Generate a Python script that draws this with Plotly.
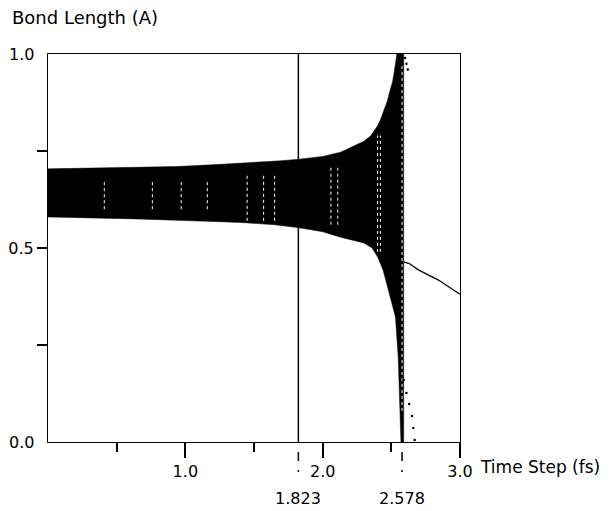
import plotly.graph_objects as go

# ---- data ----
upper_x = [0.00, 0.41, 0.94, 1.23, 1.43, 1.57, 1.70, 1.83, 2.00, 2.13, 2.20, 2.30, 2.35, 2.40, 2.42, 2.45, 2.47, 2.49, 2.51, 2.53, 2.54]
upper_y = [0.704, 0.707, 0.710, 0.715, 0.719, 0.722, 0.725, 0.729, 0.736, 0.747, 0.758, 0.775, 0.789, 0.815, 0.830, 0.858, 0.878, 0.905, 0.930, 0.975, 1.0]
lower_x = [0.00, 0.64, 1.05, 1.40, 1.65, 1.83, 2.00, 2.13, 2.30, 2.36, 2.40, 2.44, 2.48, 2.51, 2.53, 2.55, 2.56, 2.57]
lower_y = [0.580, 0.575, 0.570, 0.566, 0.560, 0.552, 0.542, 0.528, 0.513, 0.500, 0.477, 0.443, 0.392, 0.350, 0.322, 0.219, 0.120, 0.0]
strip_x = [2.54, 2.59]          # dense unstable region
strip_y = [0.0, 1.0]

streak_x = [0.41, 0.76, 0.97, 1.16, 1.45, 1.57, 1.65, 2.06, 2.11, 2.40, 2.42]
streak_lo = [0.60, 0.60, 0.60, 0.60, 0.57, 0.57, 0.57, 0.56, 0.56, 0.49, 0.49]
streak_hi = [0.675, 0.675, 0.675, 0.675, 0.69, 0.69, 0.69, 0.71, 0.71, 0.79, 0.79]

after_x = [2.59, 2.63, 2.70, 2.84, 3.00]
after_y = [0.464, 0.460, 0.443, 0.418, 0.381]

dots_top_x = [2.60, 2.61, 2.62]
dots_top_y = [0.990, 0.975, 0.960]
dots_bot_x = [2.59, 2.61, 2.63, 2.65, 2.66, 2.67]
dots_bot_y = [0.160, 0.126, 0.098, 0.067, 0.036, 0.005]

marker_x = [1.823, 2.578]
marker_labels = ["1.823", "2.578"]

x_major = [1.0, 2.0, 3.0]
x_major_text = ["1.0", "2.0", "3.0"]
x_minor = [0.5, 1.5, 2.5]
y_ticks = [0.25, 0.5, 0.75]
y_ticks_text = ["", "0.5", ""]
y_end_labels = [0.0, 1.0]
y_end_text = ["0.0", "1.0"]

FONT = "DejaVu Sans"

fig = go.Figure()

# filled oscillation envelope incl. the dense strip
poly_x = upper_x + [strip_x[1], strip_x[1]] + lower_x[::-1]
poly_y = upper_y + [strip_y[1], strip_y[0]] + lower_y[::-1]
fig.add_trace(go.Scatter(x=poly_x, y=poly_y, mode="lines", fill="toself",
                         fillcolor="black", line=dict(color="black", width=0.5),
                         hoverinfo="skip", showlegend=False))

# white dotted streaks inside the band
for sx, lo, hi in zip(streak_x, streak_lo, streak_hi):
    fig.add_trace(go.Scatter(x=[sx, sx], y=[lo, hi], mode="lines",
                             line=dict(color="white", width=1, dash="dot"),
                             hoverinfo="skip", showlegend=False))
fig.add_trace(go.Scatter(x=[marker_x[1], marker_x[1]], y=[0.08, 0.97], mode="lines",
                         line=dict(color="white", width=1, dash="dot"),
                         hoverinfo="skip", showlegend=False))

# vertical line at 1.823
fig.add_trace(go.Scatter(x=[marker_x[0], marker_x[0]], y=[0, 1], mode="lines",
                         line=dict(color="black", width=1.5),
                         hoverinfo="skip", showlegend=False))

# line after instability
fig.add_trace(go.Scatter(x=after_x, y=after_y, mode="lines",
                         line=dict(color="black", width=1.3),
                         hoverinfo="skip", showlegend=False))

# scattered dots
fig.add_trace(go.Scatter(x=dots_top_x + dots_bot_x, y=dots_top_y + dots_bot_y, mode="markers",
                         marker=dict(color="black", size=2.5),
                         hoverinfo="skip", showlegend=False, cliponaxis=False))

# dashed marks below the x axis
for mx, lab in zip(marker_x, marker_labels):
    fig.add_shape(type="line", xref="x", yref="paper", x0=mx, x1=mx, y0=-0.026, y1=-0.077,
                  line=dict(color="black", width=1.5, dash="dash"))
    fig.add_annotation(x=mx, xref="x", y=-0.145, yref="paper", text=lab, showarrow=False,
                       font=dict(family=FONT, size=16, color="black"),
                       xanchor="center", yanchor="middle")

for yv, t in zip(y_end_labels, y_end_text):
    fig.add_annotation(x=-0.028, xref="paper", y=yv, yref="y", text=t, showarrow=False,
                       font=dict(family=FONT, size=16, color="black"),
                       xanchor="right", yanchor="middle")

fig.add_annotation(x=1.044, xref="paper", y=-0.064, yref="paper", text="Time Step (fs)",
                   showarrow=False, font=dict(family=FONT, size=17, color="black"),
                   xanchor="left", yanchor="middle")
fig.add_annotation(x=-0.092, xref="paper", y=1.095, yref="paper", text="Bond Length (A)",
                   showarrow=False, font=dict(family=FONT, size=18, color="black"),
                   xanchor="left", yanchor="middle")

# page body has an 8px margin, so the figure is 8px smaller and margins shifted
fig.update_layout(
    width=606, height=503,
    margin=dict(l=40, r=154, t=46, b=69),
    paper_bgcolor="white", plot_bgcolor="white",
    font=dict(family=FONT, size=16, color="black"),
    xaxis=dict(range=[0, 3], showgrid=False, zeroline=False, showline=True, mirror=True,
               automargin=False,
               linecolor="black", linewidth=1, ticks="outside", ticklen=15, tickwidth=1.5,
               tickcolor="black", tickvals=x_major, ticktext=x_major_text,
               minor=dict(tickvals=x_minor, ticks="outside", ticklen=9, tickwidth=1.5,
                          tickcolor="black", showgrid=False)),
    yaxis=dict(range=[0, 1], showgrid=False, zeroline=False, showline=True, mirror=True,
               automargin=False,
               linecolor="black", linewidth=1, ticks="outside", ticklen=10, tickwidth=1.5,
               tickcolor="black", tickvals=y_ticks, ticktext=y_ticks_text),
)

fig.write_html("out.html")
